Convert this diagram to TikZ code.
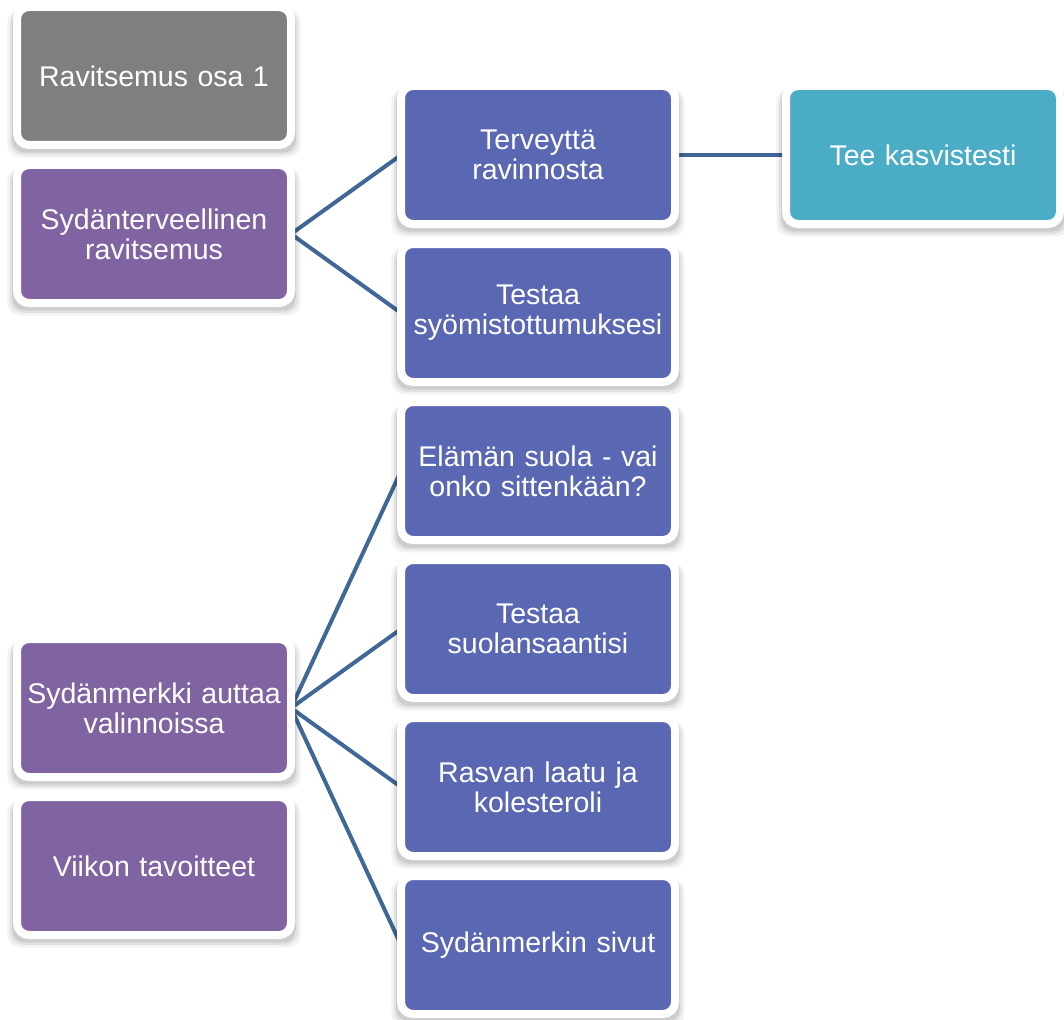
\documentclass[tikz,border=0pt]{standalone}
\usepackage{fontspec}
\setmainfont{Liberation Sans}
\usetikzlibrary{shadows,backgrounds}
\definecolor{cgray}{HTML}{7F7F7F}
\definecolor{cpurple}{HTML}{8064A2}
\definecolor{cblue}{HTML}{5A67B3}
\definecolor{cteal}{HTML}{4BACC6}
\definecolor{cline}{HTML}{3F6797}
\tikzset{
  box/.style={rectangle, rounded corners=12pt, draw=white, line width=8pt,
    minimum width=274pt, minimum height=138pt, text width=272pt, align=center,
    inner sep=0pt, outer sep=0pt, text=white,
    font=\fontsize{28.5}{30}\selectfont,
    general shadow={fill=black, opacity=0.05, shadow xshift=0pt, shadow yshift=-7pt, shadow scale=1.07},
    general shadow={fill=black, opacity=0.07, shadow xshift=0pt, shadow yshift=-6pt, shadow scale=1.05},
    general shadow={fill=black, opacity=0.09, shadow xshift=0pt, shadow yshift=-5pt, shadow scale=1.035}},
  link/.style={draw=cline, line width=4pt},
}
\begin{document}
\begin{tikzpicture}[x=1pt,y=-1pt]
\useasboundingbox (0,0) rectangle (1064,1019);
\node[box, fill=cgray]   (r1)  at (154,76)  {Ravitsemus osa 1};
\node[box, fill=cpurple] (sr)  at (154,234) {Sydänterveellinen\\ravitsemus};
\node[box, fill=cpurple] (sm)  at (154,708) {Sydänmerkki auttaa\\valinnoissa};
\node[box, fill=cpurple] (vt)  at (154,866) {Viikon tavoitteet};
\node[box, fill=cblue]   (tr)  at (538,155) {Terveyttä\\ravinnosta};
\node[box, fill=cblue]   (ts)  at (538,313) {Testaa\\syömistottumuksesi};
\node[box, fill=cblue]   (es)  at (538,471) {Elämän suola - vai\\onko sittenkään?};
\node[box, fill=cblue]   (tsu) at (538,629) {Testaa\\suolansaantisi};
\node[box, fill=cblue]   (rl)  at (538,787) {Rasvan laatu ja\\kolesteroli};
\node[box, fill=cblue]   (ss)  at (538,945) {Sydänmerkin sivut};
\node[box, fill=cteal]   (tk)  at (923,155) {Tee kasvistesti};
\begin{pgfonlayer}{background}
\draw[link] (sr.east) -- (tr.west);
\draw[link] (sr.east) -- (ts.west);
\draw[link] (sm.east) -- (es.west);
\draw[link] (sm.east) -- (tsu.west);
\draw[link] (sm.east) -- (rl.west);
\draw[link] (sm.east) -- (ss.west);
\draw[link] (tr.east) -- (tk.west);
\end{pgfonlayer}
\end{tikzpicture}
\end{document}
